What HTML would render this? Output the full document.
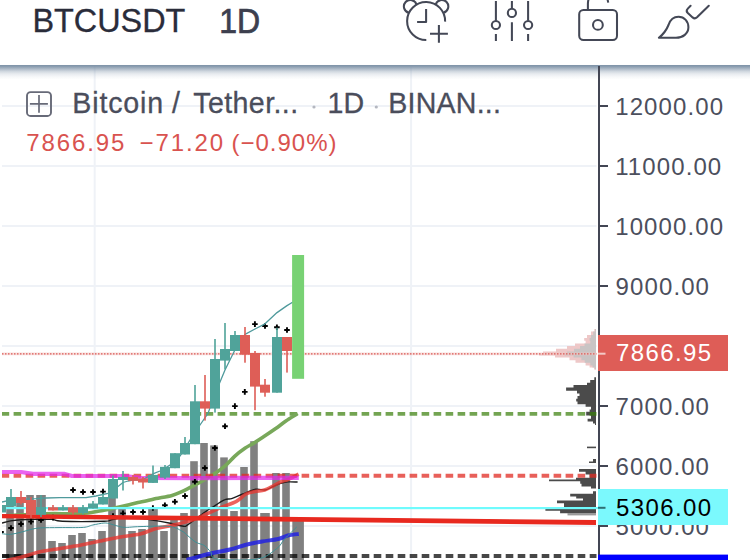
<!DOCTYPE html>
<html><head><meta charset="utf-8"><title>BTCUSDT</title>
<style>
html,body{margin:0;padding:0;background:#fff;}
body{width:750px;height:560px;overflow:hidden;position:relative;font-family:"Liberation Sans",sans-serif;}
svg{position:absolute;left:0;top:0;}
text{font-family:"Liberation Sans",sans-serif;}
</style></head><body>
<svg width="750" height="560" viewBox="0 0 750 560">
<defs>
<linearGradient id="sh" x1="0" y1="0" x2="0" y2="1">
<stop offset="0" stop-color="#7f93a8" stop-opacity="1"/><stop offset="0.07" stop-color="#7f93a8" stop-opacity="0.97"/><stop offset="0.255" stop-color="#7f93a8" stop-opacity="0.68"/><stop offset="0.44" stop-color="#7f93a8" stop-opacity="0.37"/><stop offset="0.62" stop-color="#7f93a8" stop-opacity="0.18"/><stop offset="0.81" stop-color="#7f93a8" stop-opacity="0.07"/><stop offset="1" stop-color="#7f93a8" stop-opacity="0"/>
</linearGradient>
</defs>
<rect width="750" height="560" fill="#fff"/>
<!-- chart -->
<clipPath id="cc"><rect x="2" y="60" width="596" height="500"/></clipPath>
<g clip-path="url(#cc)">
<rect x="2" y="105" width="594.5" height="2" fill="#eff2f7"/>
<rect x="2" y="165" width="594.5" height="2" fill="#eff2f7"/>
<rect x="2" y="225" width="594.5" height="2" fill="#eff2f7"/>
<rect x="2" y="285" width="594.5" height="2" fill="#eff2f7"/>
<rect x="2" y="345" width="594.5" height="2" fill="#eff2f7"/>
<rect x="2" y="405" width="594.5" height="2" fill="#eff2f7"/>
<rect x="2" y="465" width="594.5" height="2" fill="#eff2f7"/>
<rect x="2" y="525" width="594.5" height="2" fill="#eff2f7"/>
<rect x="93.7" y="66" width="2" height="494" fill="#eff2f7"/>
<rect x="410.1" y="66" width="2" height="494" fill="#eff2f7"/>
<rect x="6.2" y="498" width="7.6" height="62" fill="#808080"/>
<rect x="16.2" y="498" width="7.6" height="62" fill="#808080"/>
<rect x="26.2" y="495" width="7.6" height="65" fill="#808080"/>
<rect x="36.2" y="495" width="9.6" height="65" fill="#808080"/>
<rect x="48.2" y="541" width="7.6" height="19" fill="#808080"/>
<rect x="58.2" y="543" width="7.6" height="17" fill="#808080"/>
<rect x="68.2" y="535" width="7.6" height="25" fill="#808080"/>
<rect x="78.2" y="533" width="7.6" height="27" fill="#808080"/>
<rect x="88.2" y="539" width="7.6" height="21" fill="#808080"/>
<rect x="98.2" y="531" width="7.6" height="29" fill="#808080"/>
<rect x="108.2" y="497" width="7.6" height="63" fill="#808080"/>
<rect x="118.2" y="508" width="7.6" height="52" fill="#808080"/>
<rect x="128.2" y="531" width="7.6" height="29" fill="#808080"/>
<rect x="138.2" y="529" width="7.6" height="31" fill="#808080"/>
<rect x="148.2" y="508" width="9.6" height="52" fill="#808080"/>
<rect x="160.2" y="531" width="7.6" height="29" fill="#808080"/>
<rect x="170.2" y="518" width="7.6" height="42" fill="#808080"/>
<rect x="180.2" y="513" width="7.6" height="47" fill="#808080"/>
<rect x="190.2" y="461.2" width="7.6" height="98.80000000000001" fill="#808080"/>
<rect x="200.2" y="443" width="7.6" height="117" fill="#808080"/>
<rect x="210.2" y="445.4" width="7.6" height="114.60000000000002" fill="#808080"/>
<rect x="220.2" y="457.4" width="7.6" height="102.60000000000002" fill="#808080"/>
<rect x="230.2" y="511" width="7.6" height="49" fill="#808080"/>
<rect x="240.2" y="467" width="7.6" height="93" fill="#808080"/>
<rect x="250.2" y="441.2" width="7.6" height="118.80000000000001" fill="#808080"/>
<rect x="260.2" y="513" width="9.6" height="47" fill="#808080"/>
<rect x="272.2" y="473" width="7.6" height="87" fill="#808080"/>
<rect x="282.2" y="473" width="7.6" height="87" fill="#808080"/>
<rect x="292.3" y="519" width="11.6" height="41" fill="#808080"/>
<path d="M596 329.1H594.3V331.4H591.0V335H587.0V338H584.2V340.8H585.6V343.4H575.0V346.1H567.0V348.8H556.0V351.4H543.0V353.5H539.0V355.5H555.0V357.5H569.5V360.2H575.5V362.8H585.6V365.5H589.6V367.5H594.0V369.5H596Z" fill="#eec8c8"/>
<path d="M596 329.1H595.1V331.4H593.2V335H591.0V338H589.5V340.8H590.3V343.4H584.5V346.1H580.0V348.8H574.0V351.4H566.9V353.5H564.6V355.5H573.5V357.5H581.4V360.2H584.7V362.8H590.3V365.5H592.5V367.5H594.9V369.5H596Z" fill="#c9c4c4"/>
<path d="M596 377.36H594.3V380.04H590.2V382.72H587.0V384.99H573.5V387.40H566.1V390.75H577.0V393.43H579.5V396.10H577.5V398.78H576.2V401.46H577.5V404.14H585.6V406.81H591.0V409.49H589.6V411.77H586.2V415.52H591.0V418.86H587.6V421.54H593.0V423.55H595.0V424.89H596Z" fill="#4b4b4b"/>
<path d="M596 446.61H587.0V448.21H596Z" fill="#4b4b4b"/>
<path d="M596 459.06H593.0V461.47H589.0V463.07H596Z" fill="#4b4b4b"/>
<path d="M596 469.10H579.0V471.77H585.6V474.45H589.6V477.80H576.0V479.40H549.0V481.14H580.2V483.82H581.5V486.50H591.0V488.51H596Z" fill="#4b4b4b"/>
<path d="M596 491.18H593.0V493.86H570.2V496.54H576.2V498.55H583.0V500.56H557.0V503.23H564.0V506.58H564.0V508.99H545.4V510.86H560.1V513.27H596Z" fill="#4b4b4b"/>
<path d="M596 513.01H567.5V515.41H596Z" fill="#9a9a9a"/>
<line x1="1.6" y1="413.8" x2="596.5" y2="413.8" stroke="#377e09" stroke-opacity="0.7" stroke-width="3.8" stroke-dasharray="7.6 4.4"/>
<line x1="2" y1="556" x2="33" y2="556" stroke="#000" stroke-width="3.6" stroke-opacity="0.6"/>
<line x1="1.7" y1="556" x2="596.5" y2="556" stroke="#000" stroke-width="4" stroke-dasharray="7.6 4.4" stroke-opacity="0.72"/>
<line x1="2" y1="353.9" x2="596.5" y2="353.9" stroke="#f3c4c2" stroke-width="2.6" stroke-opacity="0.55"/>
<line x1="2" y1="353.9" x2="596.5" y2="353.9" stroke="#d95a56" stroke-width="1.3" stroke-dasharray="1.5 1.5"/>
<path d="M2 516C9.3 515.6 34.7 514.2 46 513.8C57.3 513.4 63.0 513.9 70 513.8C77.0 513.7 83.3 513.4 88 513C92.7 512.6 94.7 511.9 98 511.3C101.3 510.7 104.7 510.2 108 509.5C111.3 508.8 114.7 508.1 118 507.3C121.3 506.6 124.7 505.8 128 505C131.3 504.2 134.3 503.4 138 502.6C141.7 501.8 147.0 500.7 150 500C153.0 499.3 152.3 499.4 156 498.6C159.7 497.8 167.7 496.5 172 495.4C176.3 494.2 178.0 493.4 181.8 491.7C185.6 489.9 190.3 487.4 195 484.9C199.7 482.4 204.8 479.9 209.7 476.8C214.6 473.8 220.2 470.0 224.3 466.6C228.5 463.2 231.2 459.4 234.6 456.3C238.0 453.2 241.7 450.5 244.9 448.3C248.1 446.1 250.5 445.1 253.7 443.1C256.9 441.1 260.2 438.9 263.9 436.5C267.6 434.1 272.0 431.1 275.7 428.5C279.4 425.9 282.2 423.6 285.9 421.1C289.5 418.6 295.7 414.9 297.6 413.6" fill="none" stroke="#78a85a" stroke-width="3.6" stroke-linejoin="round" />
<path d="M2 523C3.5 522.6 7.5 521.4 10.7 520.9C13.9 520.4 17.3 520.1 21.4 519.8C25.5 519.5 31.2 519.4 35.3 519.3C39.4 519.2 43.1 519.3 46 519.3C48.9 519.3 50.1 519.1 52.8 519.4C55.5 519.7 53.9 521.0 62.4 521.3C70.9 521.6 96.0 521.5 104 521.3C112.0 521.1 108.5 520.6 110.4 520.2C112.3 519.8 112.9 519.4 115.2 519C117.5 518.6 119.9 517.7 124 517.6C128.1 517.5 134.7 517.8 140 518.3C145.3 518.8 151.2 519.8 156 520.6C160.8 521.4 164.4 522.1 169 523C173.6 523.9 180.2 525.9 183.4 526.2C186.6 526.5 184.5 526.9 188 524.6C191.5 522.3 200.2 515.5 204.3 512.6C208.4 509.7 208.9 509.5 212.3 507.3C215.8 505.1 221.8 501.1 225 499.7C228.2 498.2 228.6 499.6 231.6 498.6C234.6 497.7 238.8 495.6 242.8 494C246.8 492.4 251.9 490.0 255.7 489.3C259.4 488.6 262.4 490.5 265.3 490C268.2 489.5 270.8 487.4 273.4 486.3C276.0 485.2 278.3 484.1 280.7 483.4C283.1 482.7 285.2 482.1 288 481.9C290.8 481.7 296.0 482.0 297.6 482" fill="none" stroke="#1c1c1c" stroke-width="1.4" stroke-linejoin="round" />
<path d="M-4 563C-3.0 562.8 -2.0 562.4 2 561.5C6.0 560.6 13.7 559.1 20 557.5C26.3 555.9 33.3 553.3 40 551.8C46.7 550.3 53.3 549.6 60 548.5C66.7 547.4 73.3 546.5 80 545.3C86.7 544.0 93.3 542.4 100 541C106.7 539.6 113.3 538.2 120 537C126.7 535.8 134.0 535.4 140 534C146.0 532.6 150.7 530.0 156 528.6C161.3 527.2 166.7 526.6 172 525.4C177.3 524.2 182.6 523.1 188 521.4C193.4 519.7 198.9 517.3 204.3 515C209.7 512.7 215.0 510.0 220.3 507.7C225.7 505.4 232.1 503.6 236.4 501.3C240.7 499.0 242.9 495.6 246 494C249.1 492.4 251.9 492.3 255 491.6C258.1 490.9 261.5 491.0 264.6 490C267.7 489.0 270.7 487.2 273.4 485.8C276.1 484.4 278.3 482.9 280.7 481.8C283.1 480.8 285.0 480.8 288 479.5C291.0 478.2 296.8 475.1 298.6 474.2" fill="none" stroke="#e8362f" stroke-width="3.6" stroke-linejoin="round" stroke-opacity="0.78"/>
<path d="M186.6 560C190.6 558.9 203.5 555.2 210.7 553.5C217.9 551.8 224.1 551.0 230 549.5C235.9 548.0 240.7 546.0 246 544.7C251.3 543.4 256.6 542.5 262 541.5C267.4 540.5 273.9 540.0 278.2 539C282.5 538.0 284.4 536.3 287.8 535.5C291.2 534.7 297.0 534.2 298.8 534" fill="none" stroke="#2222e0" stroke-width="4" stroke-linejoin="round" stroke-opacity="0.85"/>
<line x1="1.6" y1="475.8" x2="596.5" y2="475.8" stroke="#e02b23" stroke-width="4" stroke-dasharray="7.6 4.4" stroke-opacity="0.75"/>
<polyline points="2,472 21,472 33,473.8 64,473.8 72,476 125,476 140,477.8 200,478.1 298.8,477.8" fill="none" stroke="#e228ea" stroke-width="4.2" stroke-linejoin="round" stroke-opacity="0.72"/>
<path d="M-1.7999999999999998 532h5.6M1 529.2v5.6" stroke="#000" stroke-width="1.9" fill="none"/>
<path d="M50.2 517.6h5.6M53 514.8000000000001v5.6" stroke="#000" stroke-width="1.9" fill="none"/>
<path d="M110.2 516h5.6M113 513.2v5.6" stroke="#000" stroke-width="1.9" fill="none"/>
<path d="M150.1 508h5.6M152.9 505.2v5.6" stroke="#000" stroke-width="1.9" fill="none"/>
<path d="M8.2 528h5.6M11 525.2v5.6" stroke="#000" stroke-width="1.9" fill="none"/>
<path d="M18.2 524h5.6M21 521.2v5.6" stroke="#000" stroke-width="1.9" fill="none"/>
<path d="M28.2 521.6h5.6M31 518.8000000000001v5.6" stroke="#000" stroke-width="1.9" fill="none"/>
<path d="M38.2 520h5.6M41 517.2v5.6" stroke="#000" stroke-width="1.9" fill="none"/>
<path d="M70.2 490h5.6M73 487.2v5.6" stroke="#000" stroke-width="1.9" fill="none"/>
<path d="M80.2 492h5.6M83 489.2v5.6" stroke="#000" stroke-width="1.9" fill="none"/>
<path d="M90.2 492h5.6M93 489.2v5.6" stroke="#000" stroke-width="1.9" fill="none"/>
<path d="M100.2 491.6h5.6M103 488.8v5.6" stroke="#000" stroke-width="1.9" fill="none"/>
<path d="M120.2 513.4h5.6M123 510.59999999999997v5.6" stroke="#000" stroke-width="1.9" fill="none"/>
<path d="M130.2 512h5.6M133 509.2v5.6" stroke="#000" stroke-width="1.9" fill="none"/>
<path d="M140.2 512h5.6M143 509.2v5.6" stroke="#000" stroke-width="1.9" fill="none"/>
<path d="M162.1 505.3h5.6M164.9 502.5v5.6" stroke="#000" stroke-width="1.9" fill="none"/>
<path d="M172.1 501.8h5.6M174.9 499.0v5.6" stroke="#000" stroke-width="1.9" fill="none"/>
<path d="M182.2 496h5.6M185 493.2v5.6" stroke="#000" stroke-width="1.9" fill="none"/>
<path d="M192.1 481.7h5.6M194.9 478.9v5.6" stroke="#000" stroke-width="1.9" fill="none"/>
<path d="M202.1 468h5.6M204.9 465.2v5.6" stroke="#000" stroke-width="1.9" fill="none"/>
<path d="M212.1 448h5.6M214.9 445.2v5.6" stroke="#000" stroke-width="1.9" fill="none"/>
<path d="M222.2 426.2h5.6M225 423.4v5.6" stroke="#000" stroke-width="1.9" fill="none"/>
<path d="M232.1 406.1h5.6M234.9 403.3v5.6" stroke="#000" stroke-width="1.9" fill="none"/>
<path d="M242.0 391.9h5.6M244.8 389.09999999999997v5.6" stroke="#000" stroke-width="1.9" fill="none"/>
<path d="M252.1 324.1h5.6M254.9 321.3v5.6" stroke="#000" stroke-width="1.9" fill="none"/>
<path d="M262.2 326h5.6M265 323.2v5.6" stroke="#000" stroke-width="1.9" fill="none"/>
<path d="M274.09999999999997 327.3h5.6M276.9 324.5v5.6" stroke="#000" stroke-width="1.9" fill="none"/>
<path d="M284.2 330h5.6M287 327.2v5.6" stroke="#000" stroke-width="1.9" fill="none"/>
<polygon points="2,513.9 596,520.1 596,525 2,518.3" fill="#e8291f"/>
<rect x="2" y="507" width="596" height="2.2" fill="#6ffbfd"/>
<polyline points="2,502 8,500.6 16,499.5 26,499.1 36,498.7 46,498 60,497.7 86,497.6 96,496 108,493.3 118,486.5 123,482.5 128,481 133,480.2 138,480 143,479.5 148,476.7 153.5,473.7 160,471 165,468.3 170,465 180,456.1 190,440 200,425 208,413.4 215,394 225,370 235,349.8 245,334.4 255,329 265,323.8 277,312.6 287,305.6 293,302" fill="none" stroke="#4f9a9c" stroke-width="1.3" stroke-linejoin="round" />
<path d="M2 533.7C3.5 533.8 7.5 534.6 10.7 534.3C13.9 534.0 17.8 533.0 21.4 532.1C24.9 531.2 28.8 529.9 32 529.2C35.2 528.5 36.0 528.2 40.7 527.9C45.4 527.6 52.9 527.7 60 527.6C67.1 527.5 77.7 527.8 83.2 527.4C88.7 527.0 89.3 525.7 92.8 525C96.3 524.3 101.1 523.2 104 523C106.9 522.8 108.3 523.4 110.4 523.9C112.5 524.4 114.4 525.2 116.8 525.8C119.2 526.4 120.9 527.3 124.8 527.4C128.7 527.5 132.6 526.8 140 526.6C147.4 526.4 162.0 525.7 169 526.4C176.0 527.1 178.6 529.4 181.8 531C185.0 532.6 185.6 534.0 188 535.9C190.4 537.8 193.3 540.7 196 542.3C198.7 543.9 201.9 543.9 204.3 545.5C206.8 547.1 208.6 549.8 210.7 552C212.8 554.2 209.2 557.8 217 559C224.8 560.2 247.4 560.7 257.3 559C267.2 557.3 272.1 552.0 276.6 548.7C281.2 545.4 281.2 542.6 284.6 539C288.0 535.4 294.7 529.0 296.7 527" fill="none" stroke="#3f8f94" stroke-width="1" stroke-linejoin="round" />
<rect x="2" y="505" width="4" height="7.5" fill="#50a39a"/>
<rect x="10.2" y="489" width="1.6" height="17.5" fill="#50a39a"/>
<rect x="6" y="497" width="10" height="9.5" fill="#50a39a"/>
<rect x="20.2" y="491" width="1.6" height="13.5" fill="#de5e57"/>
<rect x="16" y="497" width="10" height="6" fill="#de5e57"/>
<rect x="30.2" y="497" width="1.6" height="21" fill="#de5e57"/>
<rect x="26" y="500" width="10" height="15" fill="#de5e57"/>
<rect x="40.2" y="495" width="1.6" height="22" fill="#50a39a"/>
<rect x="36" y="507" width="10" height="7.8" fill="#50a39a"/>
<rect x="52.2" y="505" width="1.6" height="5.5" fill="#de5e57"/>
<rect x="48" y="507.2" width="10" height="3.3" fill="#de5e57"/>
<rect x="62.2" y="505" width="1.6" height="5.5" fill="#50a39a"/>
<rect x="58" y="507.2" width="10" height="3.3" fill="#50a39a"/>
<rect x="72.2" y="505" width="1.6" height="9.5" fill="#de5e57"/>
<rect x="68" y="507.2" width="10" height="5.3" fill="#de5e57"/>
<rect x="82.2" y="505" width="1.6" height="9.5" fill="#50a39a"/>
<rect x="78" y="507.2" width="10" height="5.8" fill="#50a39a"/>
<rect x="92.2" y="501" width="1.6" height="7.5" fill="#50a39a"/>
<rect x="88" y="503.5" width="10" height="5.0" fill="#50a39a"/>
<rect x="102.2" y="493.5" width="1.6" height="11.0" fill="#50a39a"/>
<rect x="98" y="497" width="10" height="7.5" fill="#50a39a"/>
<rect x="112.2" y="475.5" width="1.6" height="23.0" fill="#50a39a"/>
<rect x="108" y="479" width="10" height="19.5" fill="#50a39a"/>
<rect x="122.2" y="471" width="1.6" height="19.5" fill="#50a39a"/>
<rect x="118" y="477" width="10" height="3" fill="#50a39a"/>
<rect x="132.2" y="475" width="1.6" height="9.5" fill="#de5e57"/>
<rect x="128" y="477" width="10" height="3.8" fill="#de5e57"/>
<rect x="142.2" y="477" width="1.6" height="11.5" fill="#de5e57"/>
<rect x="138" y="478.5" width="10" height="4.0" fill="#de5e57"/>
<rect x="152.2" y="465.5" width="1.6" height="17.4" fill="#50a39a"/>
<rect x="148" y="474.9" width="10" height="8.0" fill="#50a39a"/>
<rect x="164.2" y="465" width="1.6" height="14" fill="#50a39a"/>
<rect x="160" y="466.9" width="10" height="10.7" fill="#50a39a"/>
<rect x="174.2" y="453.2" width="1.6" height="15.0" fill="#50a39a"/>
<rect x="170" y="453.2" width="10" height="15.0" fill="#50a39a"/>
<rect x="184.2" y="437" width="1.6" height="17.5" fill="#50a39a"/>
<rect x="180" y="443" width="10" height="11.5" fill="#50a39a"/>
<rect x="194.2" y="385" width="1.6" height="59.2" fill="#50a39a"/>
<rect x="190" y="401.3" width="10" height="42.9" fill="#50a39a"/>
<rect x="204.2" y="375" width="1.6" height="45.6" fill="#de5e57"/>
<rect x="200" y="401.3" width="10" height="7.3" fill="#de5e57"/>
<rect x="214.2" y="339" width="1.6" height="73.6" fill="#50a39a"/>
<rect x="210" y="359" width="10" height="49.6" fill="#50a39a"/>
<rect x="224.2" y="323" width="1.6" height="46.4" fill="#50a39a"/>
<rect x="220" y="349" width="10" height="11.6" fill="#50a39a"/>
<rect x="234.2" y="331" width="1.6" height="20" fill="#50a39a"/>
<rect x="230" y="335" width="10" height="16" fill="#50a39a"/>
<rect x="244.2" y="327" width="1.6" height="35.7" fill="#de5e57"/>
<rect x="240" y="335" width="10" height="19.7" fill="#de5e57"/>
<rect x="254.2" y="351" width="1.6" height="59.2" fill="#de5e57"/>
<rect x="250" y="353" width="10" height="33.6" fill="#de5e57"/>
<rect x="264.2" y="379" width="1.6" height="17.7" fill="#de5e57"/>
<rect x="260" y="384.7" width="10" height="8.0" fill="#de5e57"/>
<rect x="276.2" y="327.7" width="1.6" height="65.0" fill="#50a39a"/>
<rect x="272" y="337" width="10" height="55.7" fill="#50a39a"/>
<rect x="286.2" y="337" width="1.6" height="35.6" fill="#de5e57"/>
<rect x="282" y="337" width="10" height="14" fill="#de5e57"/>
<rect x="292.1" y="255" width="12" height="123.8" fill="#78d274"/>
</g>
<!-- header shadow -->
<rect x="0" y="64.9" width="750" height="14.6" fill="url(#sh)"/>
<!-- axis -->
<rect x="598" y="66" width="2" height="494" fill="#434654"/>
<g fill="#434654">
<rect x="599" y="105" width="9" height="2"/><rect x="599" y="165" width="9" height="2"/><rect x="599" y="225" width="9" height="2"/><rect x="599" y="285" width="9" height="2"/><rect x="599" y="405" width="9" height="2"/><rect x="599" y="465" width="9" height="2"/><rect x="599" y="525" width="9" height="2"/>
</g>
<g font-size="24" fill="#4c4f5d" letter-spacing="1.1">
<text x="615.2" y="114.7">12000.00</text>
<text x="615.2" y="174.7">11000.00</text>
<text x="615.2" y="234.7">10000.00</text>
<text x="615.6" y="294.7">9000.00</text>
<text x="615.6" y="414.7">7000.00</text>
<text x="615.6" y="474.7">6000.00</text>
<text x="615.6" y="534.7">5000.00</text>
</g>
<!-- labels -->
<rect x="598" y="335" width="130" height="36" fill="#de5d57"/>
<rect x="598" y="352.7" width="7.5" height="2" fill="#f3c9c6"/>
<text x="616" y="361" font-size="24" fill="#fff" letter-spacing="1.4">7866.95</text>
<rect x="598" y="489" width="130" height="36" fill="#7bf9fd"/>
<rect x="598" y="506.8" width="7.5" height="2" fill="#2f6f73"/>
<text x="616" y="515.6" font-size="24" fill="#000" letter-spacing="1.4">5306.00</text>
<rect x="598" y="554.6" width="130" height="6" fill="#0000fe"/>
<!-- header -->
<rect x="0" y="0" width="750" height="64.9" fill="#fff"/>
<text x="32.4" y="32.2" font-size="32.4" fill="#2a2c3a" stroke="#2a2c3a" stroke-width="0.3">BTCUSDT</text>
<text transform="translate(219.2,33.2) scale(1,1.07)" x="0" y="0" font-size="32" fill="#3c3f4e" stroke="#3c3f4e" stroke-width="0.7">1D</text>
<!-- icons -->
<g fill="none" stroke="#444856" stroke-width="2.05" stroke-linecap="butt" stroke-linejoin="round">
<!-- alarm -->
<path d="M426.3 40A19 19 0 1 1 445.1 21.6"/>
<path d="M426.1 9.1V21.9H417.1"/>
<path d="M408.9 12.8A6.5 6.5 0 1 1 416.6 4.5"/>
<path d="M435.6 4.5A6.5 6.5 0 1 1 443.3 12.8"/>
<path d="M430 33.8H447.9M438.9 25V42.8"/>
<!-- sliders -->
<path d="M495.9 1.1V20.8M495.9 34.1V40.9M511.9 1.1V8.7M511.9 22.2V40.9M528.1 1.1V20.8M528.1 34.1V40.9"/>
<circle cx="495.9" cy="25" r="4.1"/><circle cx="511.9" cy="12.9" r="4.1"/><circle cx="528.1" cy="25" r="4.1"/>
<!-- lock -->
<rect x="579.2" y="10" width="37.8" height="30" rx="4.2"/>
<circle cx="597.9" cy="24.9" r="4.9"/>
<path d="M587.9 10V4C587.9 -4 593 -9 598 -9C603 -9 607 -5 608.2 2.6"/>
<!-- brush -->
<path stroke-linecap="round" d="M658.9 37.8C663 34.5 666.5 30 668.5 25C670 20.5 673 16.8 678.5 16.8C684.5 16.8 688.4 21.5 688.4 27.3C688.4 33.5 683 37.8 676 37.8Z"/>
<path stroke-linecap="round" d="M690.6 5.8L687.8 8.6C686.4 10 686.4 11.6 687.8 13L692.6 17.4C694 18.6 695.6 18.6 697 17.3L708.8 5.8"/>
</g>
<!-- legend -->
<rect x="27" y="92.1" width="24" height="23.9" rx="3.6" fill="none" stroke="#676a78" stroke-width="1.9"/>
<path d="M29.9 103.9H47.9M39 95V112.8" stroke="#676a78" stroke-width="1.7" fill="none"/>
<g font-size="28.6" fill="#4a4d5b" stroke="#4a4d5b" stroke-width="0.3" letter-spacing="0.85">
<text x="72.3" y="112.6">Bitcoin</text>
<text x="172" y="112.6">/</text>
<text x="193.2" y="112.6" letter-spacing="0.4">Tether...</text>
<text x="327.6" y="112.6" letter-spacing="0">1D</text>
<text x="388.3" y="112.6" letter-spacing="0.2">BINAN...</text>
</g>
<circle cx="314" cy="107" r="1.6" fill="#b4b7c0"/><circle cx="376.3" cy="107" r="1.6" fill="#b4b7c0"/>
<g font-size="24" fill="#d9534f" letter-spacing="1.9">
<text x="26.3" y="151.2">7866.95</text>
<text x="139.5" y="151.2">−71.20</text>
<text x="231.5" y="151.2" letter-spacing="1.0">(−0.90%)</text>
</g>
</svg>
</body></html>
